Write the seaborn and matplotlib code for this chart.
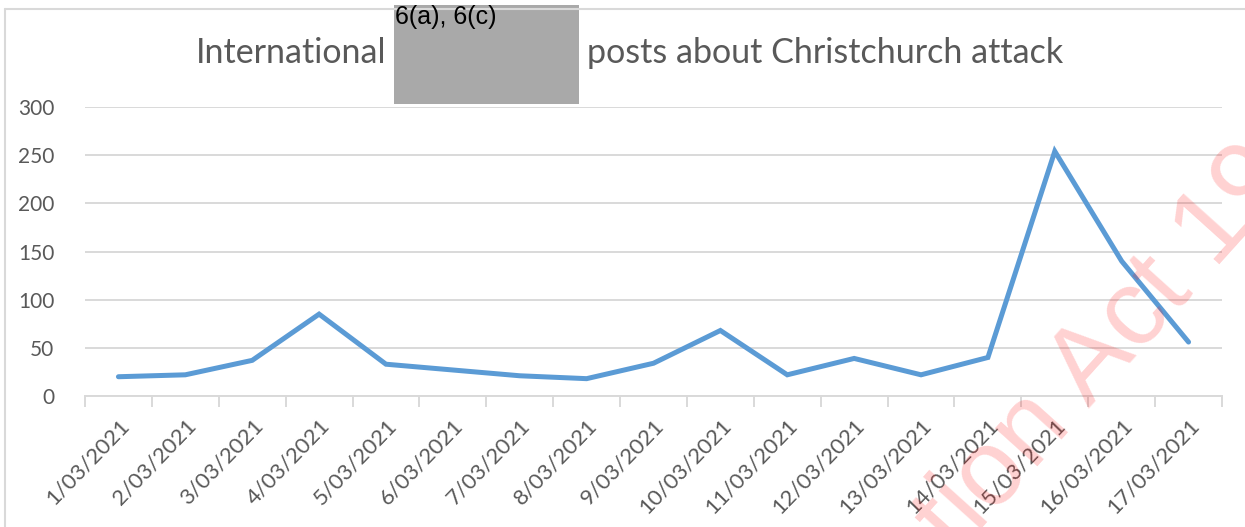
import matplotlib
matplotlib.use("Agg")
import matplotlib.pyplot as plt
import seaborn as sns
import pandas as pd
import numpy as np
from matplotlib.patches import Rectangle
from matplotlib.lines import Line2D

# data
dates = ["1/03/2021", "2/03/2021", "3/03/2021", "4/03/2021", "5/03/2021",
         "6/03/2021", "7/03/2021", "8/03/2021", "9/03/2021", "10/03/2021",
         "11/03/2021", "12/03/2021", "13/03/2021", "14/03/2021", "15/03/2021",
         "16/03/2021", "17/03/2021"]
posts = [20, 22, 37, 85, 33, 27, 21, 18, 34, 68, 22, 39, 22, 40, 254, 140, 56]
y_ticks = [0, 50, 100, 150, 200, 250, 300]

df = pd.DataFrame({"date": dates, "posts": posts})

sns.set_style("white")
plt.rcParams["font.family"] = ["Lato", "DejaVu Sans"]

fig = plt.figure(figsize=(12.45, 5.27), dpi=100)
ax = fig.add_axes([85 / 1245, 1 - 396 / 527, (1222 - 85) / 1245, (396 - 107) / 527])

sns.lineplot(data=df, x="date", y="posts", ax=ax, color="#5b9bd5",
             linewidth=3.6, sort=False, solid_joinstyle="miter")

ax.set_xlim(-0.5, len(dates) - 0.5)
ax.set_ylim(0, 300)
ax.set_yticks(y_ticks)
ax.set_yticklabels([str(v) for v in y_ticks], color="#595959", fontsize=15)
ax.yaxis.grid(True, color="#d9d9d9", linewidth=1.4)
ax.set_axisbelow(True)
ax.tick_params(axis="y", length=0, pad=22)

ax.set_xticks(np.arange(len(dates)))
ax.set_xticklabels(dates, rotation=46, ha="right", rotation_mode="anchor",
                   color="#595959", fontsize=16)
ax.set_xticks(np.arange(len(dates) + 1) - 0.5, minor=True)
ax.tick_params(axis="x", which="major", length=0, pad=14)
ax.tick_params(axis="x", which="minor", length=8, width=1.4, color="#d9d9d9",
               direction="out", bottom=True)
ax.set_xlabel("")
ax.set_ylabel("")
for side in ["top", "right", "left"]:
    ax.spines[side].set_visible(False)
ax.spines["bottom"].set_color("#d9d9d9")
ax.spines["bottom"].set_linewidth(1.4)

# outer chart frame (top and left edges visible)
fig.add_artist(Line2D([5 / 1245, 1.0], [1 - 9 / 527, 1 - 9 / 527],
                      color="#d9d9d9", linewidth=1.5))
fig.add_artist(Line2D([5 / 1245, 5 / 1245], [0, 1 - 9 / 527],
                      color="#d9d9d9", linewidth=1.5))

# title with redaction box
fig.text(386 / 1245, 1 - 53 / 527, "International", ha="right", va="center",
         fontsize=24.5, color="#595959")
fig.text(587 / 1245, 1 - 53 / 527, "posts about Christchurch attack", ha="left",
         va="center", fontsize=24.5, color="#595959")
fig.add_artist(Rectangle((394 / 1245, 1 - 104 / 527), 185 / 1245, 99 / 527,
                         transform=fig.transFigure, facecolor="#a9a9a9",
                         edgecolor="none"))
fig.text(395 / 1245, 1 - 5 / 527, "6(a), 6(c)", ha="left", va="top",
         fontsize=18, color="black", family=["Liberation Sans", "DejaVu Sans"])

# watermark
fig.text(1085 / 1245, 1 - 372 / 527, "ation Act 19", ha="center", va="center",
         rotation=48, fontsize=78, color="#ff0000", alpha=0.18,
         family=["Liberation Sans", "DejaVu Sans"])

fig.savefig("out.png", dpi=100)
